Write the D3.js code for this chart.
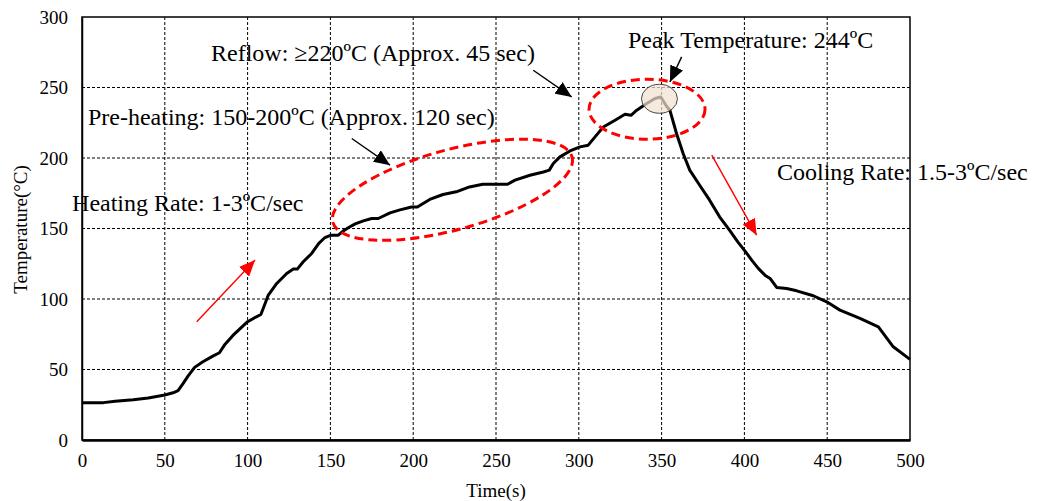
<!DOCTYPE html>
<html lang="en">
  <head>
    <meta charset="utf-8" />
    <title>Reflow profile</title>
    <script src="https://d3js.org/d3.v7.min.js"></script>
    <style>
      body { margin: 0; background: #fff; }
      text { font-family: "Liberation Serif", "Times New Roman", serif; fill: #000; }
    </style>
  </head>
  <body>
    <div id="container"></div>
    <script>
      // temperature profile
      var times = [0, 5, 13, 20, 31, 40, 50, 55, 58, 61, 64, 68, 73, 79, 83, 86, 91, 95, 100, 105,
        108, 110, 112.5, 117.6, 123.6, 127.6, 130, 133.6, 138.7, 143, 146.7, 150.4, 154.8, 158, 161.8, 165,
        169.9, 174.9, 178.9, 186, 192, 199, 202.5, 210, 218, 226, 234, 242, 257, 261.5, 270.5, 278.6,
        282.2, 284.6, 288.6, 294.7, 300.7, 305.7, 309.8, 314.8, 321.9, 327.9, 331.5, 335, 341, 346, 349.5,
        353, 355, 359, 363, 367, 373, 379, 385, 391, 396, 400.4, 404.4, 408.4, 412.4, 415.5, 419.5,
        425.5, 431.6, 441.6, 449.7, 457.7, 469.8, 480.9, 489.9, 500];
      var temps = [26.5, 26.5, 26.5, 27.5, 28.6, 29.8, 31.9, 33.5, 35, 40, 45.3, 51.5, 55.5, 59.5, 61.9, 67.3, 74, 78.5, 83.9, 87.2,
        89, 95, 102.8, 111, 118.1, 121.2, 121.2, 126.4, 132.3, 139.5, 143.6, 145.3, 145.3, 148.5, 151.2, 153.3,
        155.4, 157.1, 157.1, 161.1, 163.2, 165.3, 165.3, 170.6, 174.1, 176, 179.5, 181.4, 181.4, 184.3, 187.8, 190.1,
        191.4, 196.1, 200.8, 205, 207.9, 209.1, 215, 222, 226.8, 231, 230.3, 233.9, 238.6, 242.2, 243.3,
        236.7, 233.9, 217.4, 203.2, 191.4, 180.7, 170.1, 158.3, 148.8, 140.5, 134, 127.6, 121.7, 116.9, 114.6, 108.2,
        107.5, 105.8, 102.3, 98, 92.1, 86.2, 80.3, 66.1, 57.2];

      var xTicks = [0, 50, 100, 150, 200, 250, 300, 350, 400, 450, 500];
      var yTicks = [0, 50, 100, 150, 200, 250, 300];

      // annotations: [text, time, temp]
      var labels = [
        ["Reflow: \u2265220\u00baC (Approx. 45 sec)", 77.9, 268.6],
        ["Pre-heating: 150-200\u00baC (Approx. 120 sec)", 3.6, 223.2],
        ["Heating Rate: 1-3\u00baC/sec", -6, 162.3],
        ["Peak Temperature: 244\u00baC", 329.7, 277.8],
        ["Cooling Rate: 1.5-3\u00baC/sec", 419.7, 184.3]
      ];
      // arrows: [t1, T1, t2, T2, colour]
      var arrows = [
        [162.9, 213.8, 186, 194.9, "black"],
        [272.5, 262.2, 295.7, 243.3, "black"],
        [362.1, 271.7, 355, 253.9, "black"],
        [69.3, 83.8, 104.5, 127.6, "red"],
        [380.3, 202, 407.4, 145.3, "red"]
      ];

      var width = 1040;
      var height = 501;
      var margin = { left: 82, right: 130, top: 17, bottom: 61 };

      var svg = d3.select("#container").append("svg")
        .attr("width", width)
        .attr("height", height);

      var x = d3.scaleLinear().domain([0, 500]).range([margin.left, width - margin.right]);
      var y = d3.scaleLinear().domain([0, 300]).range([height - margin.bottom, margin.top]);

      // grid
      svg.append("g").selectAll("line")
        .data(xTicks.slice(1, -1))
        .join("line")
        .attr("x1", d => x(d)).attr("x2", d => x(d))
        .attr("y1", y(0)).attr("y2", y(300))
        .attr("stroke", "#000").attr("stroke-width", 1).attr("stroke-dasharray", "3,2");
      svg.append("g").selectAll("line")
        .data(yTicks.slice(1, -1))
        .join("line")
        .attr("x1", x(0)).attr("x2", x(500))
        .attr("y1", d => y(d)).attr("y2", d => y(d))
        .attr("stroke", "#000").attr("stroke-width", 1).attr("stroke-dasharray", "3,2");

      // frame
      svg.append("rect")
        .attr("x", x(0)).attr("y", y(300))
        .attr("width", x(500) - x(0)).attr("height", y(0) - y(300))
        .attr("fill", "none").attr("stroke", "#000").attr("stroke-width", 1.5);

      var xAxis = svg.append("g")
        .attr("transform", "translate(0," + y(0) + ")")
        .call(d3.axisBottom(x).tickValues(xTicks).tickSize(0).tickPadding(14));
      xAxis.select(".domain").attr("stroke-width", 2.5);
      xAxis.selectAll("text").style("font-size", "19px").attr("font-family", null);

      var yAxis = svg.append("g")
        .attr("transform", "translate(" + x(0) + ",0)")
        .call(d3.axisLeft(y).tickValues(yTicks).tickSize(0).tickPadding(14));
      yAxis.select(".domain").attr("stroke-width", 1.5);
      yAxis.selectAll("text").style("font-size", "19px").attr("font-family", null);

      svg.append("text")
        .attr("x", (x(0) + x(500)) / 2)
        .attr("y", 497)
        .attr("text-anchor", "middle")
        .style("font-size", "19px")
        .text("Time(s)");
      svg.append("text")
        .attr("transform", "translate(27," + (y(150) + 1) + ") rotate(-90)")
        .attr("text-anchor", "middle")
        .style("font-size", "19px")
        .text("Temperature(\u00b0C)");

      // curve
      var line = d3.line().x(d => x(d[0])).y(d => y(d[1]));
      svg.append("path")
        .datum(times.map((t, i) => [t, temps[i]]))
        .attr("d", line)
        .attr("fill", "none")
        .attr("stroke", "#000")
        .attr("stroke-width", 3)
        .attr("stroke-linejoin", "round");

      // red dashed ellipses
      svg.append("ellipse")
        .attr("transform", "translate(" + x(223.7) + "," + y(177.5) + ") rotate(-15.3)")
        .attr("rx", 124).attr("ry", 40)
        .attr("fill", "none").attr("stroke", "#ff0000").attr("stroke-width", 3)
        .attr("stroke-dasharray", "9,5");
      svg.append("ellipse")
        .attr("cx", x(341.2)).attr("cy", y(234.6))
        .attr("rx", 58).attr("ry", 30)
        .attr("fill", "none").attr("stroke", "#ff0000").attr("stroke-width", 3)
        .attr("stroke-dasharray", "9,5");
      svg.append("ellipse")
        .attr("cx", x(348.7)).attr("cy", y(242))
        .attr("rx", 18).attr("ry", 14.5)
        .attr("fill", "#f3e2d3").attr("fill-opacity", 0.72)
        .attr("stroke", "#444").attr("stroke-width", 1);

      // arrows
      var defs = svg.append("defs");
      ["black", "red"].forEach(function (c) {
        defs.append("marker")
          .attr("id", "head-" + c)
          .attr("viewBox", "0 0 16 14")
          .attr("refX", 16).attr("refY", 7)
          .attr("markerUnits", "userSpaceOnUse")
          .attr("markerWidth", 16).attr("markerHeight", 14)
          .attr("orient", "auto")
          .append("path")
          .attr("d", "M0,0 L16,7 L0,14 Z")
          .attr("fill", c == "red" ? "#ff0000" : "#000");
      });
      svg.append("g").selectAll("line")
        .data(arrows)
        .join("line")
        .attr("x1", d => x(d[0])).attr("y1", d => y(d[1]))
        .attr("x2", d => x(d[2])).attr("y2", d => y(d[3]))
        .attr("stroke", d => d[4] == "red" ? "#ff0000" : "#000")
        .attr("stroke-width", 1.4)
        .attr("marker-end", d => "url(#head-" + d[4] + ")");

      // annotation text
      svg.append("g").selectAll("text")
        .data(labels)
        .join("text")
        .attr("x", d => x(d[1]))
        .attr("y", d => y(d[2]))
        .style("font-size", "24px")
        .text(d => d[0]);
    </script>
  </body>
</html>
